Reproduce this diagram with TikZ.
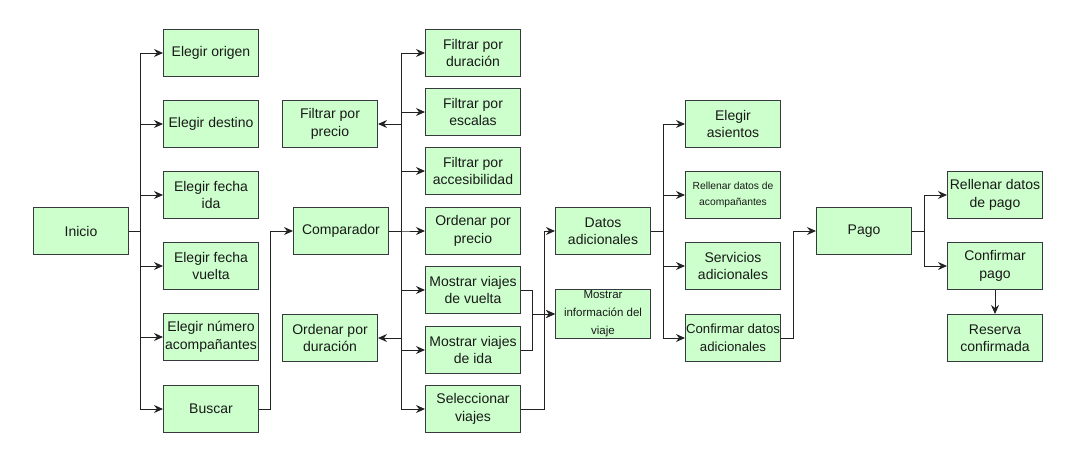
\documentclass[tikz,border=0pt]{standalone}
\usepackage{fontspec}
\setmainfont{Liberation Sans}
\usetikzlibrary{arrows.meta}
\definecolor{boxfill}{HTML}{CCFFCC}
\definecolor{boxline}{HTML}{36393D}
\definecolor{flowline}{HTML}{222222}
\tikzset{
  box/.style={draw=boxline, fill=boxfill, line width=1pt, minimum width=95pt, minimum height=47pt,
    inner xsep=0pt, inner ysep=1pt, align=center, font=\fontsize{14}{17.5}\selectfont, text=black!90},
  smallbox/.style={box, font=\fontsize{11.5}{18}\selectfont},
  flow/.style={draw=flowline, line width=1pt, -{Stealth[length=9pt,width=8pt,inset=3pt]}}
}
\begin{document}
\begin{tikzpicture}[x=1pt, y=-1pt]
    \useasboundingbox (0,0) rectangle (1075,455);
    % inicio
    \node[box] (inicio) at (81,231) {Inicio};
    \node[box] (origen) at (211,53) {Elegir origen};
    \node[box] (destino) at (211,124) {Elegir destino};
    \node[box] (fechaIda) at (211,195) {Elegir fecha\\ida};
    \node[box] (fechaVuelta) at (211,266) {Elegir fecha\\vuelta};
    \node[box] (numAcomp) at (211,337) {Elegir número\\acompañantes};
    \node[box] (buscar) at (211,409) {Buscar};
    % comparador
    \node[box] (comparador) at (341,231) {Comparador};
    \node[box] (fPrecio) at (330,124) {Filtrar por\\precio};
    \node[box] (oDuracion) at (330,338) {Ordenar por\\duración};
    \node[box] (fDuracion) at (473,53) {Filtrar por\\duración};
    \node[box] (fEscalas) at (473,112) {Filtrar por\\escalas};
    \node[box] (fAccesib) at (473,171) {Filtrar por\\accesibilidad};
    \node[box] (oPrecio) at (473,231) {Ordenar por\\precio};
    \node[box] (mVuelta) at (473,290) {Mostrar viajes\\de vuelta};
    \node[box] (mIda) at (473,350) {Mostrar viajes\\de ida};
    \node[box] (selViajes) at (473,409) {Seleccionar\\viajes};
    % datos adicionales
    \node[smallbox] (info) at (603,314) {Mostrar\\información del\\viaje};
    \node[box] (datos) at (603,231) {Datos\\adicionales};
    \node[box] (asientos) at (733,124) {Elegir\\asientos};
    \node[box, font=\fontsize{10.3}{16}\selectfont] (rAcomp) at (733,195) {Rellenar datos de\\acompañantes};
    \node[box] (servicios) at (733,266) {Servicios\\adicionales};
    \node[box, font=\fontsize{13.2}{17.5}\selectfont] (confDatos) at (733,338) {Confirmar datos\\adicionales};
    % pago
    \node[box] (pago) at (864,231) {Pago};
    \node[box] (rPago) at (995,195) {Rellenar datos\\de pago};
    \node[box] (confPago) at (995,266) {Confirmar\\pago};
    \node[box] (reserva) at (995,338) {Reserva\\confirmada};

    % conexiones
    \foreach \n in {origen,destino,fechaIda,fechaVuelta,numAcomp,buscar}
      \draw[flow] (inicio.east) -- ++(11,0) |- (\n.west);
    \draw[flow] (buscar.east) -- ++(11,0) |- (comparador.west);
    \foreach \n in {fDuracion,fEscalas,fAccesib,oPrecio,mVuelta,mIda,selViajes}
      \draw[flow] (comparador.east) -- ++(12,0) |- (\n.west);
    \foreach \n in {fPrecio,oDuracion}
      \draw[flow] (comparador.east) -- ++(12,0) |- (\n.east);
    \draw[flow] (mVuelta.east) -- ++(11,0) |- (info.west);
    \draw[flow] (mIda.east) -- ++(11,0) |- (info.west);
    \draw[flow] (selViajes.east) -- ++(23,0) |- (datos.west);
    \foreach \n in {asientos,rAcomp,servicios,confDatos}
      \draw[flow] (datos.east) -- ++(12,0) |- (\n.west);
    \draw[flow] (confDatos.east) -- ++(12,0) |- (pago.west);
    \foreach \n in {rPago,confPago}
      \draw[flow] (pago.east) -- ++(12,0) |- (\n.west);
    \draw[flow] (confPago) -- (reserva);
\end{tikzpicture}
\end{document}
